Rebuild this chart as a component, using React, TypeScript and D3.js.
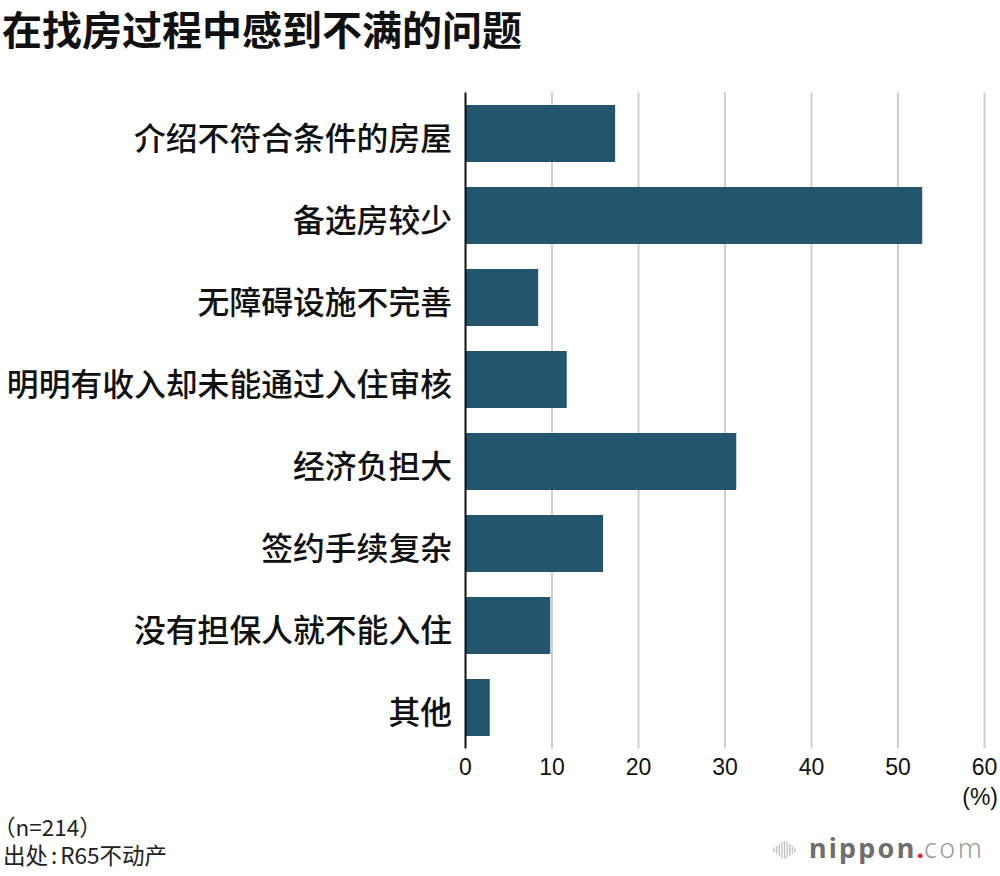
import React from "react";
import * as d3 from "d3";

const categories = [
  "介绍不符合条件的房屋",
  "备选房较少",
  "无障碍设施不完善",
  "明明有收入却未能通过入住审核",
  "经济负担大",
  "签约手续复杂",
  "没有担保人就不能入住",
  "其他",
];
const values = [17.3, 52.8, 8.4, 11.7, 31.3, 15.9, 9.8, 2.8];
const xTicks = [0, 10, 20, 30, 40, 50, 60];
const title = "在找房过程中感到不满的问题";
const noteN = "（n=214）";
const sourceHead = "出处";
const sourceBody = "R65不动产";
const logoBars = [5, 8, 12, 16, 18, 16, 12, 8, 5];

const W = 1000;
const H = 876;
const CJK = "'Noto Sans CJK SC', 'Noto Sans', sans-serif";
const LAT = "'Liberation Sans', Arial, sans-serif";

export default function App() {
  const x = d3.scaleLinear().domain([0, 60]).range([465.5, 984.5]);
  const y = d3
    .scaleBand<string>()
    .domain(categories)
    .range([92.5, 748.5])
    .paddingInner(0.305)
    .paddingOuter(0.1525);
  const bw = y.bandwidth();
  const logoX = d3.scaleLinear().domain([0, logoBars.length - 1]).range([774, 795]);

  return (
    <svg
      width={W}
      height={H}
      viewBox={`0 0 ${W} ${H}`}
      style={{ position: "absolute", left: 0, top: 0, background: "#fff" }}
    >
      <text x={2} y={45} fontFamily={CJK} fontWeight={700} fontSize={40} fill="#111">
        {title}
      </text>

      {xTicks.map((t) =>
        t === 0 ? null : (
          <line
            key={"g" + t}
            x1={x(t)}
            x2={x(t)}
            y1={92.5}
            y2={748.5}
            stroke="#cfcfcf"
            strokeWidth={2}
          />
        )
      )}

      {categories.map((c, i) => (
        <rect
          key={c}
          x={x(0)}
          y={y(c)!}
          width={x(values[i]) - x(0)}
          height={bw}
          fill="#23556f"
        />
      ))}

      <line x1={x(0)} x2={x(0)} y1={92.5} y2={748.5} stroke="#111" strokeWidth={2} />

      {categories.map((c) => (
        <text
          key={"l" + c}
          x={452}
          y={y(c)! + bw / 2 + 16.5}
          textAnchor="end"
          fontFamily={CJK}
          fontWeight={500}
          fontSize={31.8}
          fill="#111"
        >
          {c}
        </text>
      ))}

      {xTicks.map((t) => (
        <text
          key={"t" + t}
          x={x(t)}
          y={775}
          textAnchor="middle"
          fontFamily={LAT}
          fontSize={23}
          fill="#111"
        >
          {t}
        </text>
      ))}
      <text x={998} y={805} textAnchor="end" fontFamily={LAT} fontSize={23} fill="#111">
        (%)
      </text>

      <text x={-7} y={836} fontFamily={CJK} fontSize={22.5} fill="#222">
        {noteN}
      </text>
      <text x={3} y={864} fontFamily={CJK} fontSize={22.5} fill="#222">
        {sourceHead}
        <tspan dx={3}>:</tspan>
        <tspan dx={3}>{sourceBody}</tspan>
      </text>

      {logoBars.map((h, i) => (
        <rect
          key={"lb" + i}
          x={logoX(i) - 0.7}
          y={850 - h / 2}
          width={1.4}
          height={h}
          fill="#c4c4c4"
        />
      ))}
      <text x={809} y={858} fontFamily="'Noto Sans', sans-serif" fontSize={27} fill="#6e6e6e">
        <tspan fontWeight={700} letterSpacing={2.2}>nippon</tspan>
        <tspan fill="#e8202a" fontWeight={700}>.</tspan>
        <tspan fontWeight={300} fill="#9a9a9a" letterSpacing={2.5}>com</tspan>
      </text>
    </svg>
  );
}
